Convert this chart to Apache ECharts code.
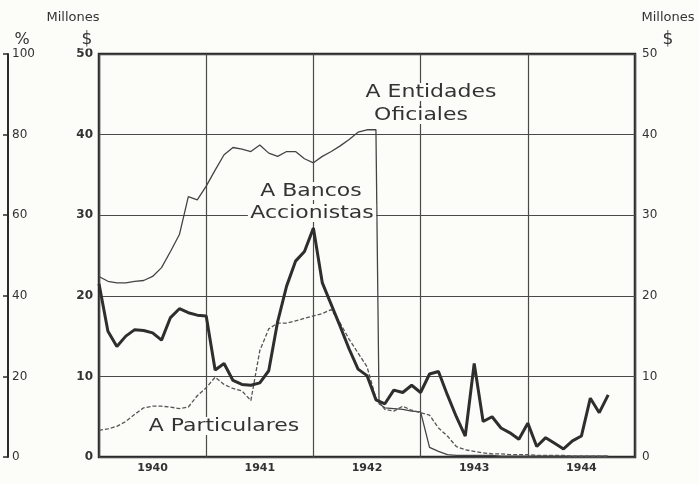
<!DOCTYPE html>
<html>
<head>
<meta charset="utf-8">
<script src="https://cdn.jsdelivr.net/npm/echarts@6/dist/echarts.min.js"></script>
<style>
  html, body { margin: 0; padding: 0; background: #fcfcf8; }
  #chart { width: 699px; height: 484px; }
</style>
</head>
<body>
<div id="chart"></div>
<script>
// años (etiquetas del eje X)
const years = ['1940', '1941', '1942', '1943', '1944']

// meses desde enero 1940 (0 = ene 1940)
const months = [
  0, 1, 2, 3, 4, 5, 6, 7, 8, 9, 10, 11, 12, 13, 14, 15, 16, 17, 18, 19,
  20, 21, 22, 23, 24, 25, 26, 27, 28, 29, 30, 31, 32, 33, 34, 35, 36, 37, 38, 39,
  40, 41, 42, 43, 44, 45, 46, 47, 48, 49, 50, 51, 52, 53, 54, 55, 56, 57
]

// A Bancos Accionistas (millones $)
const bancos = [
  21.5, 15.6, 13.7, 15.0, 15.8, 15.7, 15.4, 14.5, 17.3, 18.4,
  17.9, 17.6, 17.5, 10.8, 11.6, 9.5, 9.0, 8.9, 9.2, 10.7,
  16.8, 21.2, 24.3, 25.5, 28.4, 21.6, 18.9, 16.2, 13.4, 10.9,
  10.1, 7.1, 6.6, 8.3, 8.0, 8.9, 8.0, 10.3, 10.6, 7.7,
  5.0, 2.6, 11.6, 4.4, 5.0, 3.6, 3.0, 2.2, 4.2, 1.3,
  2.4, 1.7, 1.0, 2.0, 2.6, 7.3, 5.5, 7.7
]

// A Particulares (millones $)
const particulares = [
  3.3, 3.5, 3.8, 4.4, 5.3, 6.1, 6.3, 6.3, 6.2, 6.0,
  6.2, 7.6, 8.6, 9.9, 9.0, 8.5, 8.2, 7.0, 13.2, 15.9,
  16.6, 16.6, 16.9, 17.2, 17.5, 17.8, 18.3, 16.6, 14.6, 12.9,
  11.2, 7.3, 5.9, 5.7, 6.3, 5.8, 5.5, 5.2, 3.6, 2.6,
  1.3, 0.9, 0.7, 0.5, 0.4, 0.4, 0.3, 0.3, 0.3, 0.2,
  0.2, 0.2, 0.2, 0.1, 0.1, 0.1, 0.1, 0.1
]

// A Entidades Oficiales: caída vertical a mediados de 1942
const entidadesMonths = [
  0, 1, 2, 3, 4, 5, 6, 7, 8, 9, 10, 11, 12, 13, 14, 15, 16, 17, 18, 19,
  20, 21, 22, 23, 24, 25, 26, 27, 28, 29, 30, 31, 31.35, 32, 33, 34, 35, 36, 37, 38, 39,
  40, 41, 42, 43, 44, 45, 46, 47, 48, 49, 50, 51, 52, 53, 54, 55, 56, 57
]
const entidades = [
  22.4, 21.8, 21.6, 21.6, 21.8, 21.9, 22.4, 23.5, 25.5, 27.6,
  32.3, 31.9, 33.6, 35.6, 37.5, 38.4, 38.2, 37.9, 38.7, 37.7,
  37.3, 37.9, 37.9, 37.0, 36.5, 37.3, 37.9, 38.6, 39.4, 40.3,
  40.6, 40.6, 6.6, 6.1, 6.0, 5.9, 5.7, 5.6, 1.2, 0.7, 0.3,
  0.2, 0.2, 0.2, 0.2, 0.2, 0.1, 0.1, 0.1, 0.1, 0.1,
  0.1, 0.1, 0.1, 0.1, 0.1, 0.1, 0.1, 0.1
]

const ink = '#333'
const bg = '#fcfcf8'
const font = 'DejaVu Sans'

const pairs = (xs, ys) => xs.map((x, i) => [x, ys[i]])

const chart = echarts.init(document.getElementById('chart'))

// textos sueltos; sx estira en horizontal (la tipografía original es ancha)
const label = (text, x, y, size, sx) => ({
  type: 'text',
  x: x,
  y: y,
  scaleX: sx || 1,
  z: 10,
  style: {
    text: text,
    fill: ink,
    font: `${size}px "${font}"`,
    align: 'center',
    verticalAlign: 'middle',
    backgroundColor: bg,
    padding: [0, 2]
  }
})

chart.setOption({
  backgroundColor: bg,
  animation: false,
  grid: {
    left: 99,
    right: 64,
    top: 54,
    bottom: 27,
    show: true,
    borderColor: '#2a2a2a',
    borderWidth: 2.5,
    backgroundColor: 'transparent'
  },
  xAxis: [
    {
      type: 'category',
      data: years,
      boundaryGap: true,
      axisLine: { show: false },
      axisTick: { show: false },
      splitLine: { show: true, lineStyle: { color: '#4a4a4a', width: 1.2 } },
      axisLabel: { color: ink, fontSize: 11, fontWeight: 'bold', fontFamily: font, margin: 6 }
    },
    {
      type: 'value',
      min: 0,
      max: 60,
      show: false
    }
  ],
  yAxis: [
    {
      type: 'value',
      position: 'left',
      min: 0,
      max: 50,
      interval: 10,
      axisLine: { show: false },
      axisTick: { show: false },
      splitLine: { show: true, lineStyle: { color: '#4a4a4a', width: 1.2 } },
      axisLabel: { color: ink, fontSize: 12, fontWeight: 'bold', fontFamily: font, margin: 6 }
    },
    {
      type: 'value',
      position: 'right',
      min: 0,
      max: 50,
      interval: 10,
      axisLine: { show: false },
      axisTick: { show: false },
      splitLine: { show: false },
      axisLabel: { color: ink, fontSize: 12, fontFamily: font, margin: 7 }
    },
    {
      type: 'value',
      position: 'left',
      offset: 91,
      min: 0,
      max: 100,
      interval: 20,
      axisLine: { show: true, lineStyle: { color: '#2a2a2a', width: 2 } },
      axisTick: { show: true, inside: false, length: 5, lineStyle: { color: '#2a2a2a', width: 1.5 } },
      splitLine: { show: false },
      axisLabel: { inside: true, color: ink, fontSize: 12, fontFamily: font, margin: 4 }
    }
  ],
  series: [
    {
      name: 'A Entidades Oficiales',
      type: 'line',
      xAxisIndex: 1,
      yAxisIndex: 0,
      data: pairs(entidadesMonths, entidades),
      showSymbol: false,
      lineStyle: { color: '#444', width: 1.3 },
      z: 3
    },
    {
      name: 'A Particulares',
      type: 'line',
      xAxisIndex: 1,
      yAxisIndex: 0,
      data: pairs(months, particulares),
      showSymbol: false,
      lineStyle: { color: '#555', width: 1.3, type: [4, 2] },
      z: 3
    },
    {
      name: 'A Bancos Accionistas',
      type: 'line',
      xAxisIndex: 1,
      yAxisIndex: 0,
      data: pairs(months, bancos),
      showSymbol: false,
      lineStyle: { color: '#2e2e2e', width: 3 },
      z: 4
    }
  ],
  graphic: [
    label('Millones', 73, 18, 13),
    label('$', 87, 40, 17),
    label('%', 22, 40, 16),
    label('Millones', 668, 18, 13),
    label('$', 668, 40, 17),
    label('A Entidades', 431, 92, 18, 1.22),
    label('Oficiales', 421, 115, 18, 1.22),
    label('A Bancos', 311, 191, 18, 1.22),
    label('Accionistas', 312, 213, 18, 1.22),
    label('A Particulares', 224, 426, 18, 1.22)
  ]
})
</script>
</body>
</html>
